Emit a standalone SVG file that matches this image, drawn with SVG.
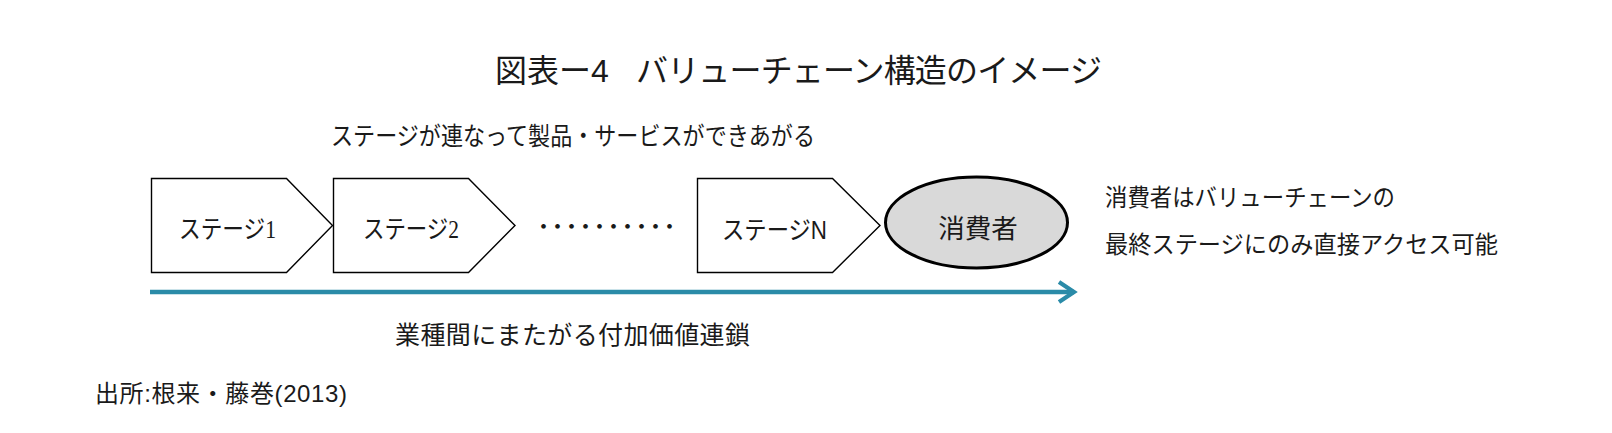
<svg xmlns="http://www.w3.org/2000/svg" width="1612" height="433" viewBox="0 0 1612 433">
<style>
.t{font-family:"Liberation Sans","Noto Sans CJK JP",sans-serif;fill:#1a1a1a}
.ts{font-family:"Liberation Serif","Noto Sans CJK JP",serif;fill:#1a1a1a}
.stage{fill:#ffffff;stroke:#000000;stroke-width:1.4;stroke-linejoin:miter}
.conn{stroke:#2a8ba8;stroke-width:4.5;fill:none}
</style>
<defs>
<marker id="chev" viewBox="0 0 20 22" refX="17" refY="11" markerWidth="20" markerHeight="22" markerUnits="userSpaceOnUse" orient="auto" overflow="visible">
<path d="M2,1 L17,11 L2,21" fill="none" stroke="#2a8ba8" stroke-width="4.2"/>
</marker>
</defs>
<rect width="1612" height="433" fill="#ffffff"/>

<g id="title">
<text class="t" y="82" font-size="32"><tspan x="495">図表ー4</tspan><tspan x="636" textLength="466">バリューチェーン構造のイメージ</tspan></text>
</g>

<g id="subtitle">
<text class="t" x="331" y="145" font-size="25" textLength="484" lengthAdjust="spacingAndGlyphs">ステージが連なって製品・サービスができあがる</text>
</g>

<g id="stage1">
<polygon class="stage" points="151.5,178.5 286.5,178.5 332.5,225.5 286.5,272.5 151.5,272.5"/>
<text class="ts" x="179" y="237.5" font-size="25" textLength="97" lengthAdjust="spacingAndGlyphs">ステージ1</text>
</g>

<g id="stage2">
<polygon class="stage" points="333.5,178.5 468.5,178.5 515,225.5 468.5,272.5 333.5,272.5"/>
<text class="ts" x="363" y="237.5" font-size="25" textLength="96" lengthAdjust="spacingAndGlyphs">ステージ2</text>
</g>

<g id="ellipsis">
<text class="t" x="532.5" y="233.5" font-size="22" letter-spacing="-8">・・・・・・・・・・</text>
</g>

<g id="stageN">
<polygon class="stage" points="697.5,178.5 832.5,178.5 880,225.5 832.5,272.5 697.5,272.5"/>
<text class="t" x="722" y="238.5" font-size="25" textLength="105" lengthAdjust="spacingAndGlyphs">ステージN</text>
</g>

<g id="consumer">
<ellipse cx="976.5" cy="222.5" rx="91" ry="45.5" fill="#d9d9d9" stroke="#000000" stroke-width="3"/>
<text class="t" x="978" y="238" font-size="26.5" text-anchor="middle">消費者</text>
</g>

<g id="note">
<text class="t" x="1105" y="206" font-size="24" textLength="290" lengthAdjust="spacingAndGlyphs">消費者はバリューチェーンの</text>
<text class="t" x="1105" y="253" font-size="24" textLength="393" lengthAdjust="spacingAndGlyphs">最終ステージにのみ直接アクセス可能</text>
</g>

<g id="connectors">
<line class="conn" x1="150" y1="292" x2="1074" y2="292" marker-end="url(#chev)"/>
</g>

<g id="chain-label">
<text class="t" x="395" y="344" font-size="25" textLength="355">業種間にまたがる付加価値連鎖</text>
</g>

<g id="source">
<text class="t" x="95" y="401.5" font-size="24" textLength="252">出所:根来・藤巻(2013)</text>
</g>
</svg>
